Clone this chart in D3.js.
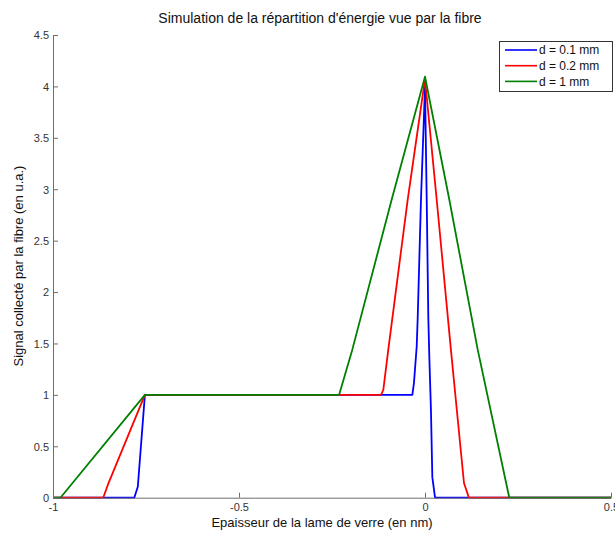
<!DOCTYPE html>
<html><head><meta charset="utf-8">
<script src="https://cdn.jsdelivr.net/npm/d3@7"></script>
<style>body{margin:0;background:#fff;}svg{display:block;font-family:"Liberation Sans",Arial,sans-serif;}</style>
</head><body><svg id="c" width="615" height="536"></svg>
<script>
const seriesNames = ["d = 0.1 mm", "d = 0.2 mm", "d = 1 mm"];
const seriesColors = ["#0000ff", "#ff0000", "#008000"];
const blueX = [-1, -0.7815, -0.772, -0.753, -0.034, -0.0296, -0.0223, -0.0196, -0.0108, 0, 0.0046, 0.0089, 0.0116, 0.016, 0.0197, 0.027, 0.5];
const blueY = [0, 0, 0.107, 1, 1, 1.12, 1.47, 1.75, 2.9, 4.0, 2.9, 1.75, 1.37, 0.85, 0.2, 0, 0];
const redX = [-1, -0.865, -0.851, -0.753, -0.118, -0.112, -0.099, -0.0465, 0, 0.0314, 0.0699, 0.1048, 0.118, 0.5];
const redY = [0, 0, 0.14, 1, 1, 1.05, 1.43, 2.9, 4.07, 2.9, 1.43, 0.143, 0, 0];
const greenX = [-1, -0.98, -0.753, -0.231, -0.1954, -0.0895, 0, 0.0653, 0.1417, 0.2266, 0.5];
const greenY = [0, 0, 1, 1, 1.44, 2.9, 4.095, 2.9, 1.44, 0, 0];
const xTicks = [-1, -0.5, 0, 0.5];
const yTicks = [0, 0.5, 1, 1.5, 2, 2.5, 3, 3.5, 4, 4.5];

const svg = d3.select("#c");
const L = 53, R = 611, T = 35, B = 497.7;
const x = d3.scaleLinear().domain([-1, 0.5]).range([L, R]);
const y = d3.scaleLinear().domain([0, 4.5]).range([B, T]);
const axisColor = "#6e6e6e", textColor = "#333";
const fmt = d => String(d);

const series = [[blueX, blueY], [redX, redY], [greenX, greenY]];
const line = d3.line().x(d => x(d[0])).y(d => y(d[1]));
series.forEach((s, i) => {
  const pts = s[0].map((v, k) => [v, s[1][k]]);
  svg.append("path").attr("d", line(pts)).attr("fill", "none")
    .attr("stroke", seriesColors[i]).attr("stroke-width", 1.8).attr("stroke-linejoin", "round");
});

// axes
const xa = svg.append("g").attr("transform", `translate(0,${B})`)
  .call(d3.axisBottom(x).tickValues(xTicks).tickSizeInner(-5).tickSizeOuter(0).tickPadding(4).tickFormat(fmt));
const ya = svg.append("g").attr("transform", `translate(${L},0)`)
  .call(d3.axisLeft(y).tickValues(yTicks).tickSizeInner(-5).tickSizeOuter(0).tickPadding(4).tickFormat(fmt));
[xa, ya].forEach(a => {
  a.select(".domain").attr("stroke", axisColor);
  a.selectAll(".tick line").attr("stroke", axisColor);
  a.selectAll(".tick text").attr("fill", textColor).attr("font-size", 11)
    .attr("font-family", "Liberation Sans, Arial, sans-serif");
});
xa.selectAll(".tick text").attr("y", 6).attr("dy", "0.71em");
ya.selectAll(".tick text").attr("dy", "0.35em");

// title and labels
svg.append("text").attr("x", 320).attr("y", 23).attr("text-anchor", "middle")
  .attr("font-size", 14).attr("fill", "#111").text("Simulation de la répartition d'énergie vue par la fibre");
svg.append("text").attr("x", 322).attr("y", 527).attr("text-anchor", "middle")
  .attr("font-size", 13).attr("fill", "#111").text("Epaisseur de la lame de verre (en nm)");
svg.append("text").attr("transform", "translate(23,266) rotate(-90)").attr("text-anchor", "middle")
  .attr("font-size", 13).attr("fill", "#111").text("Signal collecté par la fibre (en u.a.)");

// legend
const lg = svg.append("g");
lg.append("rect").attr("x", 499.5).attr("y", 41.5).attr("width", 113).attr("height", 50)
  .attr("fill", "#fff").attr("stroke", "#333").attr("stroke-width", 1);
seriesNames.forEach((n, i) => {
  const yy = 50 + i * 15.7;
  lg.append("line").attr("x1", 505).attr("x2", 537).attr("y1", yy).attr("y2", yy)
    .attr("stroke", seriesColors[i]).attr("stroke-width", 1.6);
  lg.append("text").attr("x", 539).attr("y", yy).attr("dy", "0.35em").attr("font-size", 12)
    .attr("fill", "#111").text(n);
});
</script></body></html>
